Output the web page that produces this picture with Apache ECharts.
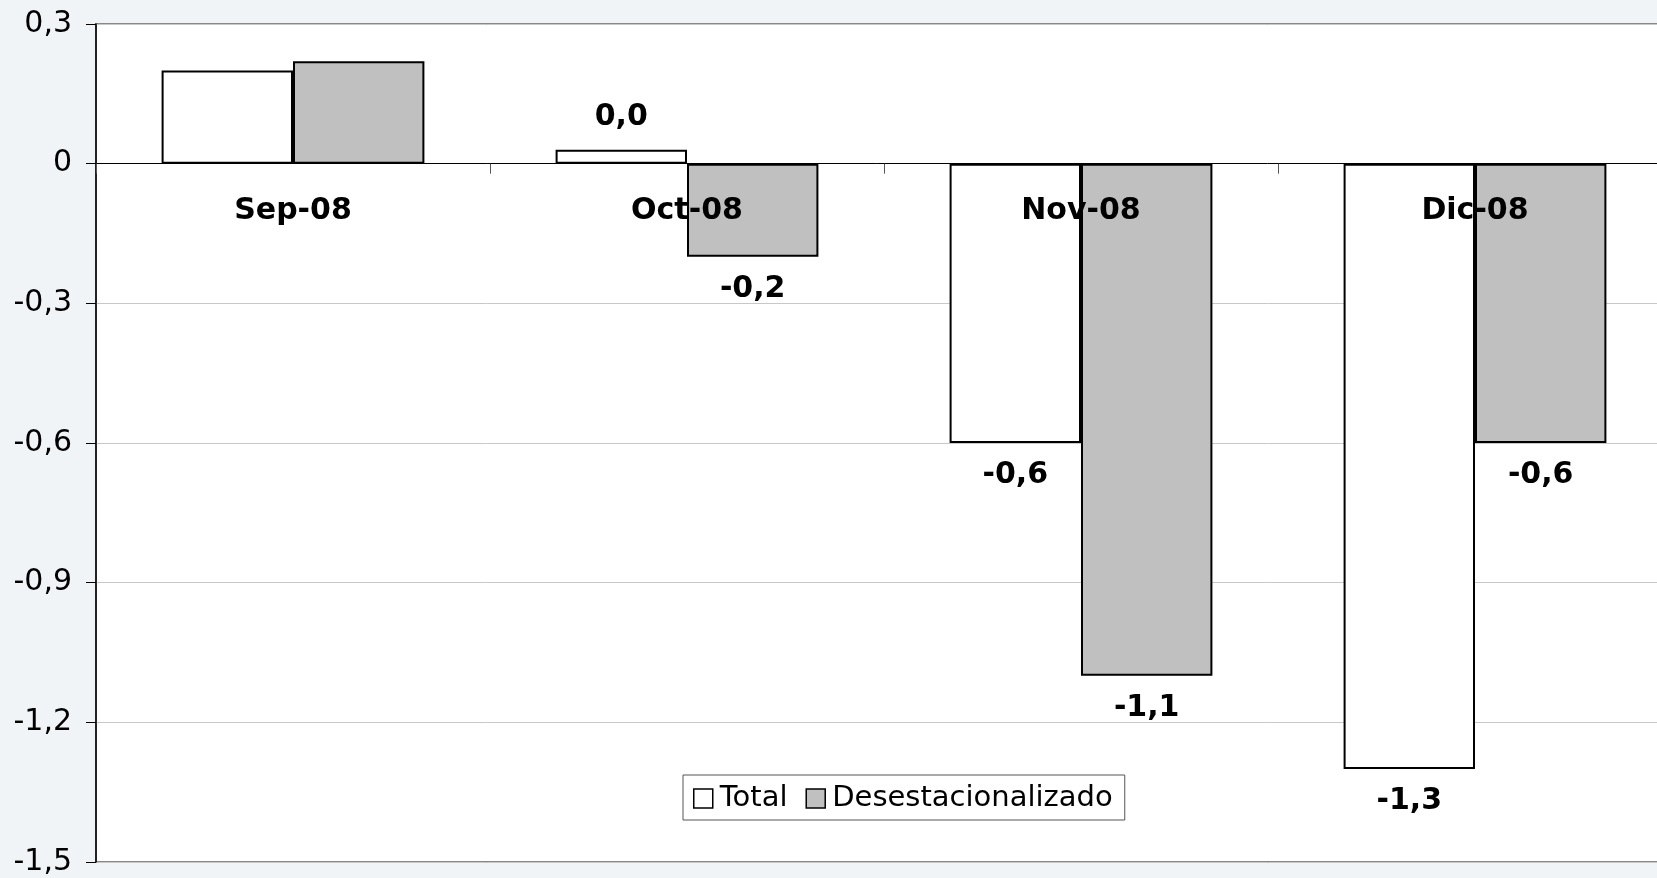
<!DOCTYPE html>
<html>
<head>
<meta charset="utf-8">
<script src="https://cdn.jsdelivr.net/npm/echarts@6/dist/echarts.min.js"></script>
<style>
html,body{margin:0;padding:0;background:#f0f4f7;}
#c{width:1657px;height:878px;}
</style>
</head>
<body>
<div id="c"></div>
<script>
var categories = ['Sep-08', 'Oct-08', 'Nov-08', 'Dic-08'];
var totalValues = [0.20, 0.03, -0.60, -1.30];
var desestValues = [0.22, -0.20, -1.10, -0.60];
var labelled = [false, true, true, true];
var yTicks = { min: -1.5, max: 0.3, interval: 0.3 };

function fmt(v) { return v.toFixed(1).replace('.', ','); }
function items(vals) {
  return vals.map(function (v, i) {
    return { value: v, label: { show: labelled[i] } };
  });
}

var chart = echarts.init(document.getElementById('c'));
chart.setOption({
  backgroundColor: '#f0f4f7',
  animation: false,
  grid: {
    left: 96, top: 24, bottom: 16, right: -15,
    outerBoundsMode: 'none', containLabel: false,
    show: true, backgroundColor: '#ffffff', borderColor: '#888888', borderWidth: 2
  },
  legend: {
    left: 683, top: 775,
    orient: 'horizontal',
    data: ['Total', 'Desestacionalizado'],
    icon: 'rect',
    backgroundColor: '#ffffff',
    borderColor: '#555555', borderWidth: 1,
    padding: [9, 12, 7, 10],
    itemGap: 18,
    itemWidth: 19, itemHeight: 19,
    itemStyle: { borderWidth: 1.5, borderColor: '#000' },
    textStyle: { fontFamily: 'DejaVu Sans', fontSize: 29, color: '#000', padding: [0, 0, 0, 2] }
  },
  xAxis: {
    type: 'category',
    data: categories,
    axisLine: { onZero: true, lineStyle: { color: '#000', width: 1 } },
    axisTick: { show: true, length: 10, lineStyle: { color: '#555' } },
    axisLabel: { show: false },
    z: 5
  },
  yAxis: {
    type: 'value',
    min: yTicks.min, max: yTicks.max, interval: yTicks.interval,
    axisLine: { show: true, lineStyle: { color: '#000', width: 1.5 } },
    axisTick: { show: true, length: 10, lineStyle: { color: '#000' } },
    axisLabel: {
      margin: 24, fontFamily: 'DejaVu Sans', fontSize: 30, color: '#000',
      formatter: function (v) { return Math.abs(v) < 1e-9 ? '0' : fmt(v); }
    },
    splitLine: { show: true, lineStyle: { color: '#c8c8c8', width: 1 } }
  },
  series: [
    {
      name: 'Total', type: 'bar', data: items(totalValues),
      barGap: '0%', barCategoryGap: '33.3%',
      itemStyle: { color: '#ffffff', borderColor: '#000', borderWidth: 2 },
      label: {
        position: 'outside', distance: 17,
        fontFamily: 'DejaVu Sans', fontWeight: 'bold', fontSize: 30, color: '#000',
        formatter: function (p) { return fmt(p.value); }
      }
    },
    {
      name: 'Desestacionalizado', type: 'bar', data: items(desestValues),
      barGap: '0%', barCategoryGap: '33.3%',
      itemStyle: { color: '#c0c0c0', borderColor: '#000', borderWidth: 2 },
      label: {
        position: 'outside', distance: 17,
        fontFamily: 'DejaVu Sans', fontWeight: 'bold', fontSize: 30, color: '#000',
        formatter: function (p) { return fmt(p.value); }
      }
    },
    {
      name: 'categoryLabels', type: 'custom', silent: true, z: 10,
      data: categories.map(function (c, i) { return [i, 0]; }),
      renderItem: function (params, api) {
        var p = api.coord([api.value(0), 0]);
        return {
          type: 'text', x: p[0], y: p[1] + 33,
          style: {
            text: categories[params.dataIndex], fill: '#000',
            font: 'bold 30px "DejaVu Sans"', align: 'center', verticalAlign: 'top'
          }
        };
      }
    }
  ]
});
</script>
</body>
</html>
